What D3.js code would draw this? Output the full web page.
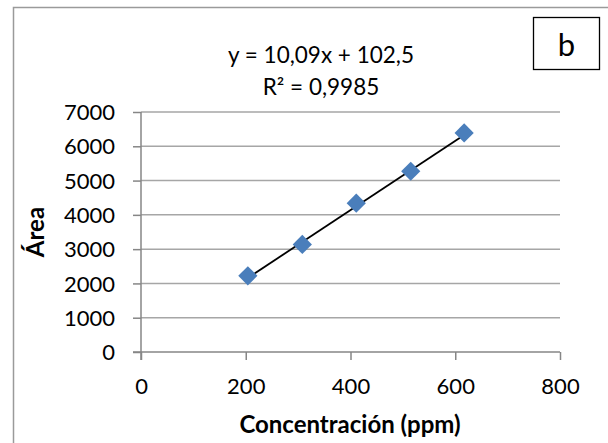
<!DOCTYPE html>
<html><head><meta charset="utf-8">
<script src="https://cdn.jsdelivr.net/npm/d3@7"></script>
<style>body{margin:0;background:#fff}svg{display:block}text{font-family:Lato,"Open Sans",sans-serif;fill:#000}</style>
</head><body><svg id="c" width="608" height="443"></svg>
<script>
const concentracion = [204, 308, 411, 515, 617];
const area = [2222, 3137, 4339, 5272, 6389];
const xTicks = [0, 200, 400, 600, 800];
const yTicks = [0, 1000, 2000, 3000, 4000, 5000, 6000, 7000];
const trendSlope = 10.09, trendIntercept = 102.5;
const eqText = "y = 10,09x + 102,5";
const r2Text = "R² = 0,9985";
const xTitle = "Concentración (ppm)", yTitle = "Área", panelLabel = "b";

const svg = d3.select("#c");
const x = d3.scaleLinear().domain([0, 800]).range([141, 560]);
const y = d3.scaleLinear().domain([0, 7000]).range([352, 112]);

// outer chart border (cropped at right/bottom)
svg.append("rect").attr("x", 13.5).attr("y", 7.5).attr("width", 620).attr("height", 460)
  .attr("fill", "none").attr("stroke", "#9a9a9a").attr("stroke-width", 1.5);

// gridlines
svg.append("g").selectAll("line").data(yTicks.filter(d => d > 0)).join("line")
  .attr("x1", x(0)).attr("x2", x(800)).attr("y1", d => y(d)).attr("y2", d => y(d))
  .attr("stroke", "#a6a6a6").attr("stroke-width", 1.5);

// y axis
const ya = svg.append("g").attr("transform", `translate(${x(0)},0)`)
  .call(d3.axisLeft(y).tickValues(yTicks).tickSize(8).tickPadding(18).tickFormat(d3.format("d")));
ya.select(".domain").remove();
ya.selectAll("line").attr("stroke", "#868686").attr("stroke-width", 1.5);
ya.selectAll("text").attr("font-size", 22).attr("font-family", "Lato").attr("dy", "0.35em");
svg.append("line").attr("x1", x(0)).attr("x2", x(0)).attr("y1", y(7000)).attr("y2", y(0) + 8)
  .attr("stroke", "#868686").attr("stroke-width", 1.5);

// x axis
const xa = svg.append("g").attr("transform", `translate(0,${y(0)})`)
  .call(d3.axisBottom(x).tickValues(xTicks).tickSize(8).tickPadding(18).tickFormat(d3.format("d")));
xa.select(".domain").remove();
xa.selectAll("line").attr("stroke", "#868686").attr("stroke-width", 1.5);
xa.selectAll("text").attr("font-size", 22).attr("font-family", "Lato");
svg.append("line").attr("x1", x(0) - 8).attr("x2", x(800)).attr("y1", y(0)).attr("y2", y(0))
  .attr("stroke", "#868686").attr("stroke-width", 1.5);

// trendline
const xmin = d3.min(concentracion), xmax = d3.max(concentracion);
svg.append("line")
  .attr("x1", x(xmin)).attr("y1", y(trendSlope * xmin + trendIntercept))
  .attr("x2", x(xmax)).attr("y2", y(trendSlope * xmax + trendIntercept))
  .attr("stroke", "#000").attr("stroke-width", 1.8);

// markers
const sym = d3.symbol().type(d3.symbolSquare).size(185);
svg.append("g").selectAll("path").data(concentracion.map((c, i) => [c, area[i]])).join("path")
  .attr("d", sym)
  .attr("transform", d => `translate(${x(d[0])},${y(d[1])}) rotate(45)`)
  .attr("fill", "#4a7ebb");

// trend labels
svg.append("text").attr("x", 321).attr("y", 63).attr("text-anchor", "middle").attr("font-size", 22.5).text(eqText);
svg.append("text").attr("x", 321).attr("y", 95).attr("text-anchor", "middle").attr("font-size", 22.5).text(r2Text);

// axis titles
svg.append("text").attr("x", 350).attr("y", 433).attr("text-anchor", "middle")
  .attr("font-size", 24).attr("font-weight", "bold").text(xTitle);
svg.append("text").attr("transform", "translate(44,232) rotate(-90)").attr("text-anchor", "middle")
  .attr("font-size", 24).attr("font-weight", "bold").text(yTitle);

// panel label box
svg.append("rect").attr("x", 533.5).attr("y", 17.5).attr("width", 66).attr("height", 52)
  .attr("fill", "#fff").attr("stroke", "#000").attr("stroke-width", 1.3);
svg.append("text").attr("x", 566.5).attr("y", 56).attr("text-anchor", "middle")
  .attr("font-family", "Liberation Sans").attr("font-size", 31).text(panelLabel);
</script></body></html>
